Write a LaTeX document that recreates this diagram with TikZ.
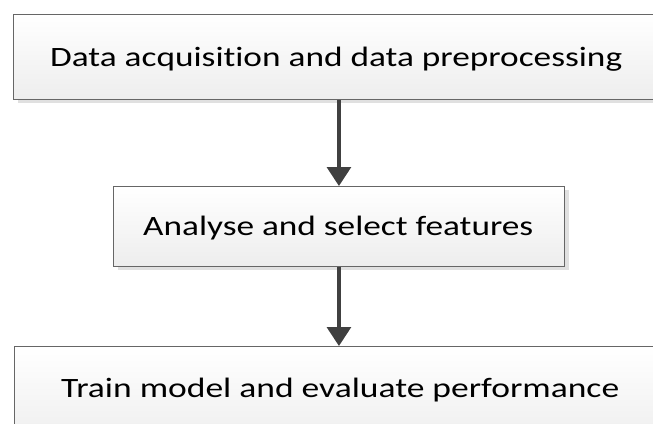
\documentclass[tikz,border=0pt]{standalone}
\usepackage{fontspec}
\setmainfont[Ligatures=NoCommon]{Carlito}
\usetikzlibrary{arrows.meta,shadows}
\begin{document}
\begin{tikzpicture}[x=1pt,y=-1pt,
  box/.style={draw=black!60, line width=0.9pt, shading=axis, top color=white, bottom color=black!7,
    inner sep=0pt, anchor=north west,
    drop shadow={shadow xshift=5pt, shadow yshift=-4pt, fill=black!12, opacity=1}},
  lbl/.style={font=\fontsize{28}{32}\selectfont, text=black, inner sep=0pt, anchor=base west},
  arr/.style={draw=black!75, line width=3.2pt, -{Triangle[length=19pt,width=24pt]}}]
\useasboundingbox (0,0) rectangle (653,423);
\clip (0,0) rectangle (653,423);
\node[box, minimum width=648pt, minimum height=85pt] (top) at (13,14) {};
\node[box, minimum width=451pt, minimum height=80pt] (mid) at (113,186) {};
\node[box, minimum width=650pt, minimum height=100pt] (bot) at (14,346) {};
\node[lbl] (t1) at (50,66) {\resizebox{572pt}{\height}{Data acquisition and data preprocessing}};
\node[lbl] (t2) at (143,235) {\resizebox{390pt}{\height}{Analyse and select features}};
\node[lbl] (t3) at (61,397) {\resizebox{558pt}{\height}{Train model and evaluate performance}};
\draw[arr] (top.south -| mid.north) -- (mid.north);
\draw[arr] (mid.south) -- (bot.north -| mid.south);
\end{tikzpicture}
\end{document}
